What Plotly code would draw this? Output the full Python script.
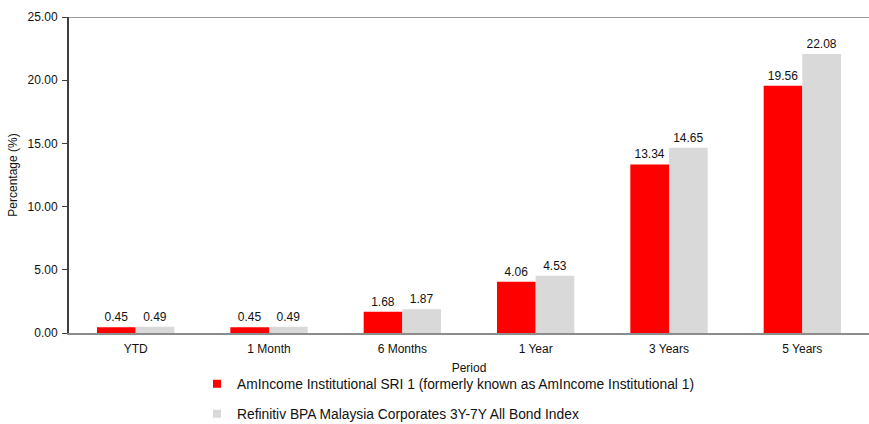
import plotly.graph_objects as go

categories = ["YTD", "1 Month", "6 Months", "1 Year", "3 Years", "5 Years"]
fund_name = "AmIncome Institutional SRI 1 (formerly known as AmIncome Institutional 1)"
index_name = "Refinitiv BPA Malaysia Corporates 3Y-7Y All Bond Index"
fund_values = [0.45, 0.45, 1.68, 4.06, 13.34, 19.56]
index_values = [0.49, 0.49, 1.87, 4.53, 14.65, 22.08]
y_ticks = [0, 5, 10, 15, 20, 25]
fund_color = "#FF0000"
index_color = "#D9D9D9"

font_family = "Liberation Sans, Arial, Helvetica, sans-serif"

fig = go.Figure()
fig.add_trace(go.Bar(
    x=categories, y=fund_values, name=fund_name, showlegend=False,
    marker=dict(color=fund_color, line=dict(width=0)),
    text=[f"{v:.2f}" for v in fund_values], textposition="outside",
    textfont=dict(size=12, color="#111111", family=font_family), cliponaxis=False,
))
fig.add_trace(go.Bar(
    x=categories, y=index_values, name=index_name, showlegend=False,
    marker=dict(color=index_color, line=dict(width=0)),
    text=[f"{v:.2f}" for v in index_values], textposition="outside",
    textfont=dict(size=12, color="#111111", family=font_family), cliponaxis=False,
))
# legend entries with small square markers
for nm, col, grp in [(fund_name, fund_color, "a"), (index_name, index_color, "b")]:
    fig.add_trace(go.Scatter(
        x=[None], y=[None], mode="markers", name=nm, legendgroup=grp,
        marker=dict(symbol="square", size=8, color=col),
    ))

fig.update_layout(
    width=869, height=424,
    margin=dict(l=69, r=0, t=17, b=91, autoexpand=False),
    paper_bgcolor="white", plot_bgcolor="white",
    font=dict(family=font_family, size=12, color="#111111"),
    barmode="group", bargap=0.42, bargroupgap=0,
    showlegend=True,
    legend=dict(
        orientation="v", x=0.16, xanchor="left", y=-0.112, yanchor="top",
        traceorder="grouped", tracegroupgap=9,
        font=dict(size=13.8, family=font_family, color="#111111"),
        itemwidth=30, bgcolor="rgba(0,0,0,0)",
    ),
    xaxis=dict(
        title=dict(text="Period", font=dict(size=12), standoff=8),
        showline=True, linecolor="#8c8c8c", linewidth=2,
        ticks="", ticklabelstandoff=4, tickfont=dict(size=12),
        showgrid=False, automargin=False,
    ),
    yaxis=dict(
        title=dict(text="Percentage (%)", font=dict(size=12), standoff=7),
        range=[0, 25], tickvals=y_ticks,
        ticktext=[f"{v:.2f}" for v in y_ticks],
        showline=True, linecolor="#404040", linewidth=2,
        ticks="outside", ticklen=5, tickcolor="#404040", ticklabelstandoff=2,
        tickfont=dict(size=12), showgrid=False, zeroline=False, automargin=False,
    ),
    shapes=[dict(type="line", xref="paper", yref="y", x0=0, x1=1, y0=25, y1=25,
                 line=dict(color="#9a9a9a", width=2))],
)

fig.write_html(
    "out.html",
    config={"displayModeBar": False},
    post_script="document.body.style.margin='0';document.body.style.padding='0';",
)
